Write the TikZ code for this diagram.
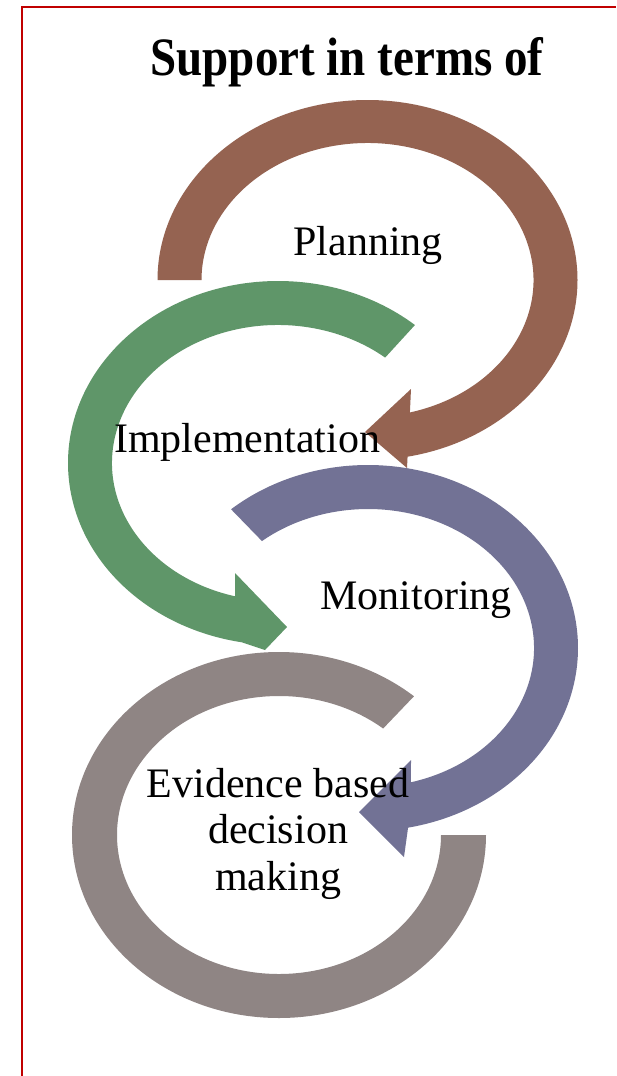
\documentclass[tikz,border=0pt]{standalone}
\usepackage{fontspec}
\setmainfont{Liberation Serif}
\definecolor{cbrown}{HTML}{956351}
\definecolor{cgreen}{HTML}{5F9669}
\definecolor{cpurple}{HTML}{727295}
\definecolor{cgray}{HTML}{8F8584}
\definecolor{cred}{HTML}{C00000}
\begin{document}
\begin{tikzpicture}[x=1pt,y=1pt,
  lbl/.style={anchor=base,inner sep=0pt,font=\fontsize{42}{46.5}\selectfont,text=black},
  ttl/.style={anchor=base,inner sep=0pt,font=\bfseries\fontsize{47}{50}\selectfont,text=black},
  frame/.style={draw=cred,line width=2pt}]
\useasboundingbox (0,0) rectangle (616,-1076);
\fill[white] (0,0) rectangle (616,-1076);
\draw[frame] (21.5,-1076) -- (21.5,-7) -- (616,-7);
% centres
\coordinate (bc) at (367.5,-280);
\coordinate (gc) at (278,-463);
\coordinate (pc) at (368,-648);
\coordinate (qc) at (279,-835);
% Planning (brown)
\fill[cbrown] ([shift={(180:210 and 180)}]bc)
  arc[start angle=180,end angle=-79,x radius=210,y radius=180]
  -- (407,-468) -- (365,-432) -- (411,-389)
  -- ([shift={(-75.2:166 and 137)}]bc)
  arc[start angle=-75.2,end angle=180,x radius=166,y radius=137] -- cycle;
% Implementation (green)
\fill[cgreen] ([shift={(49.3:210 and 182)}]gc)
  arc[start angle=49.3,end angle=260,x radius=210,y radius=182]
  -- (265,-650) -- (287,-627) -- (235,-573)
  -- ([shift={(255:166 and 138)}]gc)
  arc[start angle=255,end angle=49.8,x radius=166,y radius=138] -- cycle;
% Monitoring (purple)
\fill[cpurple] ([shift={(130.7:210 and 183)}]pc)
  arc[start angle=130.7,end angle=-79,x radius=210,y radius=183]
  -- (404,-857) -- (359,-812) -- (411,-760)
  -- ([shift={(-75:166 and 139)}]pc)
  arc[start angle=-75,end angle=129.7,x radius=166,y radius=139] -- cycle;
% Evidence based decision making (gray)
\fill[cgray] ([shift={(0:207 and 183)}]qc)
  arc[start angle=0,end angle=-310.7,x radius=207,y radius=183]
  -- ([shift={(-310:162 and 139)}]qc)
  arc[start angle=-310,end angle=0,x radius=162,y radius=139] -- cycle;
% texts
\node[ttl] (title) at (347,-75) {\scalebox{1}[1.15]{Support in terms of}};
\node[lbl] (plan) at (368,-255) {Planning};
\node[lbl] (impl) at (247,-452) {Implementation};
\node[lbl] (mon) at (416,-609) {Monitoring};
\node[lbl,align=center,anchor=north] (evid) at (278,-768) {Evidence based\\decision\\making};
\end{tikzpicture}
\end{document}
